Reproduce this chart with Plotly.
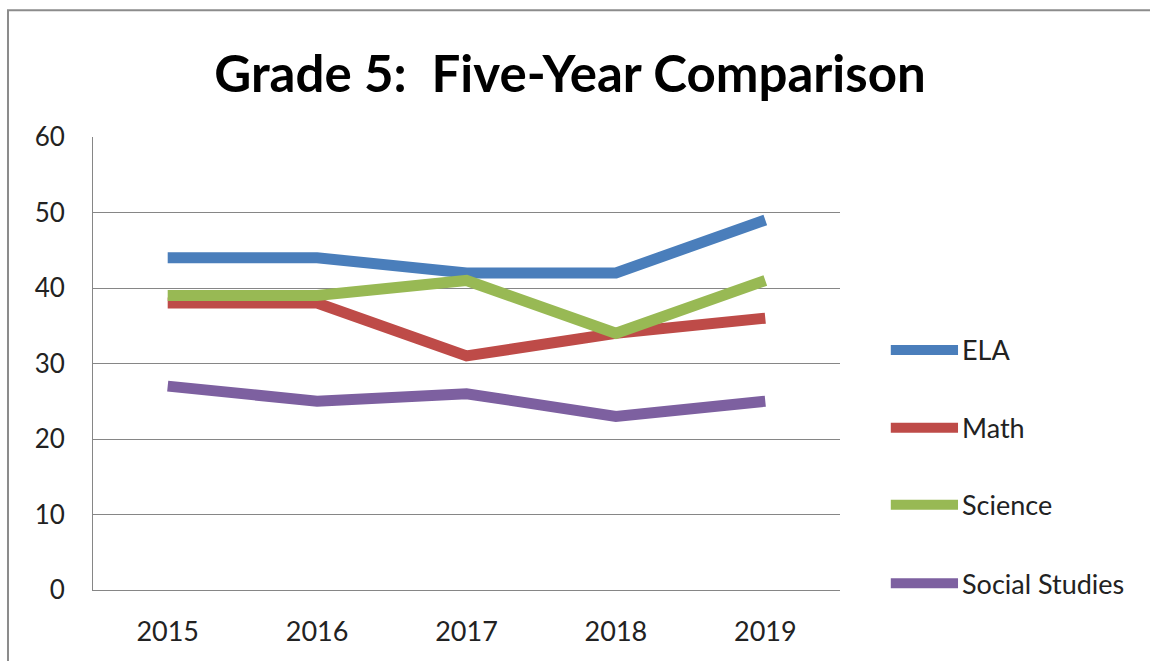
import plotly.graph_objects as go

years = ["2015", "2016", "2017", "2018", "2019"]
ela = [44, 44, 42, 42, 49]
math = [38, 38, 31, 34, 36]
science = [39, 39, 41, 34, 41]
social_studies = [27, 25, 26, 23, 25]

series = [
    ("ELA", ela, "#4A7EBB"),
    ("Math", math, "#BE4B48"),
    ("Science", science, "#98B954"),
    ("Social Studies", social_studies, "#7D60A0"),
]

font_family = "Lato, 'Open Sans', sans-serif"

fig = go.Figure()
for name, vals, color in series:
    fig.add_trace(go.Scatter(
        x=years, y=vals, name=name, mode="lines",
        line=dict(color=color, width=11),
        showlegend=False,
    ))

# hand-drawn legend to mimic the long Excel legend keys
legend_y = [0.530, 0.358, 0.188, 0.015]
shapes = []
annotations = []
for (name, vals, color), ly in zip(series, legend_y):
    shapes.append(dict(type="line", xref="paper", yref="paper",
                       x0=1.068, x1=1.158, y0=ly, y1=ly,
                       line=dict(color=color, width=10)))
    annotations.append(dict(xref="paper", yref="paper", x=1.160, y=ly,
                            text=name, showarrow=False, xanchor="left",
                            yanchor="middle",
                            font=dict(size=27, color="#222", family=font_family)))

# outer chart frame: only left and top edges are visible in the crop
shapes.append(dict(type="path", xref="paper", yref="paper",
                   path="M -0.1138,-0.3 L -0.1138,1.280 L 1.5,1.280",
                   line=dict(color="#8c8c8c", width=2), layer="below"))

W, H = 1150, 661
fig.update_layout(
    width=W, height=H,
    margin=dict(l=93, r=310, t=137, b=71),
    paper_bgcolor="white", plot_bgcolor="white",
    title=dict(text="<b>Grade 5:  Five-Year Comparison</b>",
               x=570 / W, xref="container", xanchor="center",
               y=1 - 74 / H, yref="container", yanchor="middle",
               font=dict(size=51, color="black", family=font_family)),
    shapes=shapes,
    annotations=annotations,
)

fig.update_xaxes(
    type="category", range=[-0.5, 4.5],
    showgrid=False, showline=True, linecolor="#868686", linewidth=1,
    ticks="", ticklabelstandoff=18,
    tickfont=dict(size=27, color="#222", family=font_family),
)
fig.update_yaxes(
    range=[0, 60], dtick=10,
    showgrid=True, gridcolor="#868686", gridwidth=1,
    showline=True, linecolor="#868686", linewidth=1,
    zeroline=False, ticks="", ticklabelstandoff=22,
    tickfont=dict(size=26, color="#222", family=font_family),
)

# drop the default 8px page margin so the figure fills the window exactly
fig.write_html("out.html",
               config={"displayModeBar": False},
               post_script="document.body.style.margin='0';"
                           "document.body.style.overflow='hidden';")
